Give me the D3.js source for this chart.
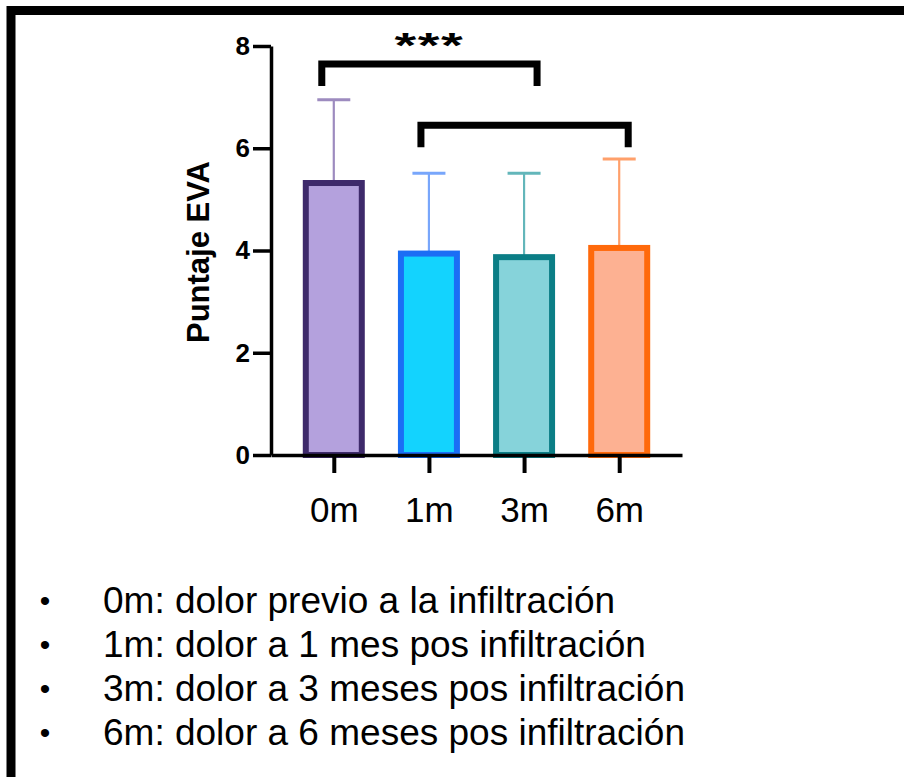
<!DOCTYPE html>
<html>
<head>
<meta charset="utf-8">
<script src="https://cdn.jsdelivr.net/npm/d3@7"></script>
<style>
  html, body { margin: 0; padding: 0; background: #ffffff; }
  svg { display: block; }
  text { font-family: "Liberation Sans", Arial, sans-serif; fill: #000; }
</style>
</head>
<body>
<svg id="chart" width="904" height="777"></svg>
<script>
// ---- data ----
const categories = ["0m", "1m", "3m", "6m"];
const means = [5.32, 3.94, 3.87, 4.05];
const sds = [1.63, 1.57, 1.64, 1.74];
const yTicks = [0, 2, 4, 6, 8];
const fillColors = ["#b4a1dd", "#13d3fe", "#86d3da", "#fdb192"];
const strokeColors = ["#3e2a6b", "#1b6ef5", "#0b7e86", "#ff690b"];
const errorColors = ["#9d8bbf", "#78a6fb", "#63b6ba", "#ffa06b"];
const bracketFrom = ["0m", "1m"];
const bracketTo = ["3m", "6m"];
const bracketTop = [7.65, 6.45];
const bracketBottom = [7.22, 6.02];
const bracketLabels = ["***", ""];
const yTitle = "Puntaje EVA";
const legendLines = [
  "0m: dolor previo a la infiltración",
  "1m: dolor a 1 mes pos infiltración",
  "3m: dolor a 3 meses pos infiltración",
  "6m: dolor a 6 meses pos infiltración"
];

// ---- layout ----
const svg = d3.select("#chart");

// frame (top and left border)
svg.append("path")
  .attr("d", "M11,777 L11,10.5 L904,10.5")
  .attr("fill", "none").attr("stroke", "#000").attr("stroke-width", 9);

const x = d3.scalePoint().domain(categories).range([271, 682]).padding(0.66);
const y = d3.scaleLinear().domain([0, 8]).range([455, 46]);
const barW = 56;
const capW = 33;

// error bars (drawn first, bars cover the lower part)
const eg = svg.append("g");
categories.forEach((c, i) => {
  const cx = x(c);
  eg.append("line")
    .attr("x1", cx).attr("x2", cx)
    .attr("y1", y(means[i])).attr("y2", y(means[i] + sds[i]))
    .attr("stroke", errorColors[i]).attr("stroke-width", 2.2);
  eg.append("line")
    .attr("x1", cx - capW / 2).attr("x2", cx + capW / 2)
    .attr("y1", y(means[i] + sds[i])).attr("y2", y(means[i] + sds[i]))
    .attr("stroke", errorColors[i]).attr("stroke-width", 3);
});

// bars
svg.append("g").selectAll("rect")
  .data(categories)
  .join("rect")
  .attr("x", d => x(d) - barW / 2)
  .attr("width", barW)
  .attr("y", (d, i) => y(means[i]))
  .attr("height", (d, i) => y(0) - y(means[i]))
  .attr("fill", (d, i) => fillColors[i])
  .attr("stroke", (d, i) => strokeColors[i])
  .attr("stroke-width", 6);

// y axis
const yAxis = svg.append("g")
  .attr("transform", "translate(271,0)")
  .call(d3.axisLeft(y).tickValues(yTicks).tickFormat(d3.format("d"))
    .tickSize(18).tickSizeOuter(0).tickPadding(3));
yAxis.select(".domain").attr("stroke", "#000").attr("stroke-width", 3.5);
yAxis.selectAll(".tick line").attr("stroke", "#000").attr("stroke-width", 3.5);
yAxis.selectAll(".tick text")
  .style("font-family", "'Liberation Sans', Arial, sans-serif")
  .style("font-size", "26px").style("font-weight", "bold").attr("fill", "#1a1a1a");

// x axis
const xAxis = svg.append("g")
  .attr("transform", "translate(0,455)")
  .call(d3.axisBottom(x).tickSize(18).tickSizeOuter(0).tickPadding(24));
xAxis.select(".domain").attr("stroke", "#000").attr("stroke-width", 3.5);
xAxis.selectAll(".tick line").attr("stroke", "#000").attr("stroke-width", 4);
xAxis.selectAll(".tick text")
  .style("font-family", "'Liberation Sans', Arial, sans-serif")
  .style("font-size", "35px").attr("fill", "#000");

// y title
svg.append("text")
  .attr("transform", "translate(209,252) rotate(-90)")
  .attr("text-anchor", "middle")
  .style("font-size", "31px").style("font-weight", "bold")
  .attr("fill", "#222")
  .text(yTitle);

// significance brackets
bracketFrom.forEach((f, i) => {
  const x1 = x(f) - (i === 0 ? 12 : 8);
  const x2 = x(bracketTo[i]) + (i === 0 ? 13 : 9);
  svg.append("path")
    .attr("d", `M${x1},${y(bracketBottom[i])} L${x1},${y(bracketTop[i])} L${x2},${y(bracketTop[i])} L${x2},${y(bracketBottom[i])}`)
    .attr("fill", "none").attr("stroke", "#000").attr("stroke-width", 7)
    .attr("stroke-linejoin", "miter");
  if (bracketLabels[i]) {
    const mx = (x1 + x2) / 2;
    svg.append("text")
      .attr("transform", `translate(${mx},${y(bracketTop[i]) - 7}) scale(1.55,0.95)`)
      .attr("text-anchor", "middle")
      .style("font-size", "36px").style("font-weight", "bold")
      .style("letter-spacing", "1px")
      .attr("fill", "#111")
      .text(bracketLabels[i]);
  }
});

// legend list
const lg = svg.append("g");
legendLines.forEach((t, i) => {
  const by = 613 + i * 44;
  lg.append("text").attr("x", 45).attr("y", by - 2).attr("text-anchor", "middle")
    .style("font-size", "30px").text("•");
  lg.append("text").attr("x", 103).attr("y", by)
    .style("font-size", "37px").text(t);
});
</script>
</body>
</html>
